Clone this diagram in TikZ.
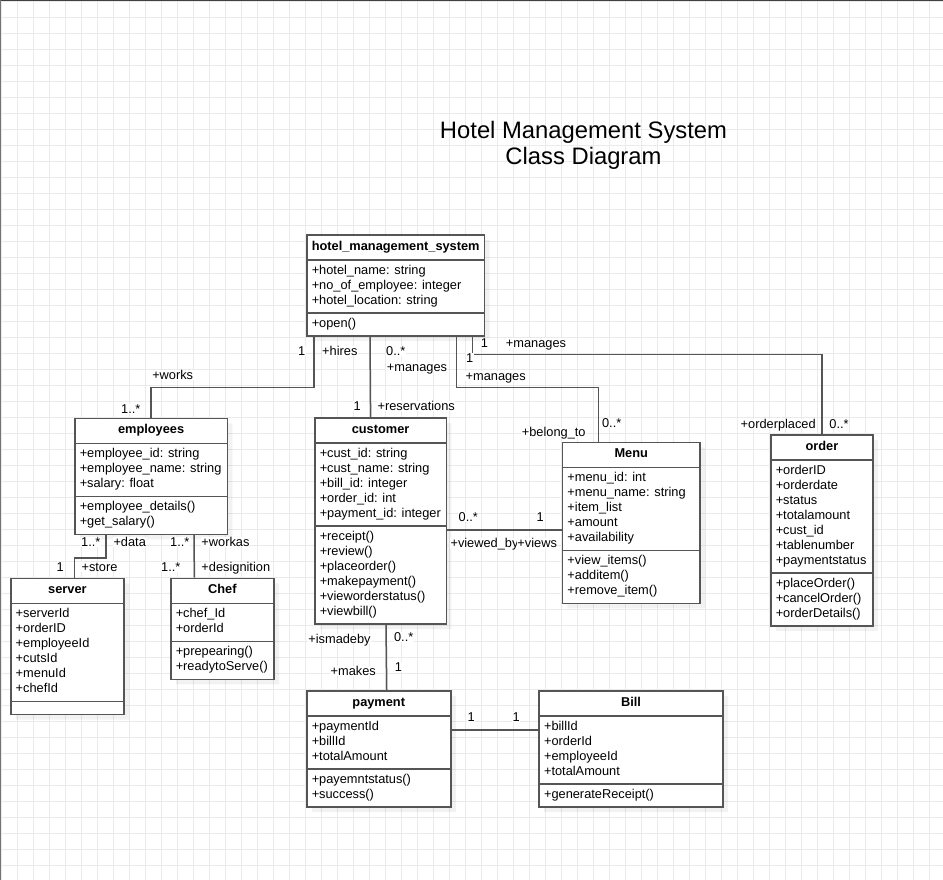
\documentclass[tikz,border=0pt]{standalone}
\usepackage{fontspec}
\setmainfont{Liberation Sans}
\usepackage{xcolor}
\usepackage{tikz}
\usetikzlibrary{shapes.multipart,shadows}

\definecolor{umlgray}{RGB}{85,85,85}
\definecolor{gridgray}{RGB}{234,234,234}
\newcommand{\classhead}[1]{\rule[-5.5pt]{0pt}{17pt}\textbf{#1}}
\newcommand{\members}[1]{\begin{tabular}{@{}l@{}}#1\end{tabular}}

\begin{document}
\begin{tikzpicture}[x=1pt, y=-1pt]
      \tikzstyle{umlclass} = [draw=umlgray, line width=1.5pt, fill=white, anchor=north west,
        rectangle split, rectangle split parts=3, rectangle split part align={center,left,left},
        rectangle split empty part height=0pt, rectangle split empty part depth=0pt,
        inner xsep=5pt, inner ysep=3.25pt,
        font=\fontsize{12.8}{15}\selectfont,
        drop shadow={shadow xshift=5pt, shadow yshift=-5pt, fill=black, opacity=0.05}]
      \tikzstyle{lbl} = [fill=white, inner sep=0.5pt, text height=9pt, text depth=0pt,
        font=\fontsize{12.8}{15}\selectfont]
      \tikzstyle{assoc} = [draw=umlgray, line width=1.5pt]

      \useasboundingbox (0,0) rectangle (943,880);
      \fill[white] (0,0) rectangle (943,880);
      \begin{scope}[shift={(1.3,1.3)}]
        \draw[gridgray, line width=1.2pt, step=16pt] (-1.3,878.7) grid (941.7,-1.3);
      \end{scope}
      \draw[black!75, line width=2pt] (0,0) -- (943,0);
      \draw[black!55, line width=2pt] (0,0) -- (0,880);

      \node[font=\fontsize{23.8}{26}\selectfont, align=center, anchor=north, inner sep=0pt]
        (title) at (583.5,121) {Hotel Management System\\Class Diagram};

      % classes
      \node[umlclass] (hms) at (306,234) {\classhead{hotel\_management\_system}
        \nodepart{two}\members{+hotel\_name: string\\+no\_of\_employee: integer\\+hotel\_location: string}
        \nodepart{three}\members{+open()}};
      \node[umlclass, minimum width=152.7] (emp) at (74,417.7) {\classhead{employees}
        \nodepart{two}\members{+employee\_id: string\\+employee\_name: string\\+salary: float}
        \nodepart{three}\members{+employee\_details()\\+get\_salary()}};
      \node[umlclass, minimum width=113.3] (server) at (10,577.7) {\classhead{server}
        \nodepart{two}\members{+serverId\\+orderID\\+employeeId\\+cutsId\\+menuId\\+chefId}
        \nodepart{three}};
      \node[umlclass, minimum width=103.3] (chef) at (170,577.7) {\classhead{Chef}
        \nodepart{two}\members{+chef\_Id\\+orderId}
        \nodepart{three}\members{+prepearing()\\+readytoServe()}};
      \node[umlclass, minimum width=131.7] (cust) at (314,417.3) {\classhead{customer}
        \nodepart{two}\members{+cust\_id: string\\+cust\_name: string\\+bill\_id: integer\\+order\_id: int\\+payment\_id: integer}
        \nodepart{three}\members{+receipt()\\+review()\\+placeorder()\\+makepayment()\\+vieworderstatus()\\+viewbill()}};
      \node[umlclass, minimum width=137.6] (menu) at (561.7,441.7) {\classhead{Menu}
        \nodepart{two}\members{+menu\_id: int\\+menu\_name: string\\+item\_list\\+amount\\+availability}
        \nodepart{three}\members{+view\_items()\\+additem()\\+remove\_item()}};
      \node[umlclass, minimum width=102.3] (order) at (770,434) {\classhead{order}
        \nodepart{two}\members{+orderID\\+orderdate\\+status\\+totalamount\\+cust\_id\\+tablenumber\\+paymentstatus}
        \nodepart{three}\members{+placeOrder()\\+cancelOrder()\\+orderDetails()}};
      \node[umlclass, minimum width=144] (pay) at (306,690) {\classhead{payment}
        \nodepart{two}\members{+paymentId\\+billId\\+totalAmount}
        \nodepart{three}\members{+payemntstatus()\\+success()}};
      \node[umlclass, minimum width=184] (bill) at (538.3,690) {\classhead{Bill}
        \nodepart{two}\members{+billId\\+orderId\\+employeeId\\+totalAmount}
        \nodepart{three}\members{+generateReceipt()}};

      % connections
      \draw[assoc] ([xshift=8pt]hms.south west) -- ++(0,51) -| (emp.north);
      \draw[assoc] ([xshift=64pt]hms.south west) -- ([xshift=-10pt]cust.north);
      \draw[assoc] ([xshift=-29pt]hms.south east) -- ++(0,51) -| ([xshift=-33pt]menu.north);
      \draw[assoc] ([xshift=-13pt]hms.south east) -- ++(0,18) -| (order.north);
      \draw[assoc] ([xshift=32pt]emp.south west) -- ++(0,23) -| ([xshift=7pt]server.north);
      \draw[assoc] ([xshift=120pt]emp.south west) -- ([xshift=-28pt]chef.north);
      \draw[assoc] ([yshift=-9pt]cust.east) coordinate (cm) -- (cm -| menu.west);
      \draw[assoc] ([xshift=72pt]cust.south west) -- ([xshift=8pt]pay.north);
      \draw[assoc] ([yshift=19pt]pay.east) coordinate (pb) -- (pb -| bill.west);

      % labels
      \node[lbl] (hires1) at (301.7,351) {1};
      \node[lbl] (hires) at (339.8,351) {+hires};
      \node[lbl] (works) at (172.7,375) {+works};
      \node[lbl] (works1) at (130.8,409) {1..*};
      \node[lbl] (res0) at (395.8,350.7) {0..*};
      \node[lbl] (resman) at (417,366.7) {+manages};
      \node[lbl] (res1) at (357.3,405.7) {1};
      \node[lbl] (res) at (416.2,405.7) {+reservations};
      \node[lbl] (menu1) at (469.7,358.3) {1};
      \node[lbl] (menuman) at (495.7,375.7) {+manages};
      \node[lbl] (belong) at (553.7,431.7) {+belong\_to};
      \node[lbl] (menu0) at (611.7,423.3) {0..*};
      \node[lbl] (order1) at (484.5,343.3) {1};
      \node[lbl] (orderman) at (536,343.3) {+manages};
      \node[lbl] (placed) at (778.2,424) {+orderplaced};
      \node[lbl] (order0) at (839,424) {0..*};
      \node[lbl] (data1) at (90.8,542) {1..*};
      \node[lbl] (data) at (129.7,542) {+data};
      \node[lbl] (store1) at (60.3,566.7) {1};
      \node[lbl] (store) at (99.5,566.7) {+store};
      \node[lbl] (workas1) at (179.8,542) {1..*};
      \node[lbl] (workas) at (225.5,542) {+workas};
      \node[lbl] (desig1) at (170.8,566.7) {1..*};
      \node[lbl] (desig) at (235.8,566.7) {+designition};
      \node[lbl] (view0) at (468.3,516.7) {0..*};
      \node[lbl] (view1) at (540.3,516.7) {1};
      \node[lbl] (viewedby) at (484.5,543.3) {+viewed\_by};
      \node[lbl] (views) at (537.2,543.3) {+views};
      \node[lbl] (made) at (339.5,639.3) {+ismadeby};
      \node[lbl] (made0) at (403.7,637) {0..*};
      \node[lbl] (makes) at (353.2,670.7) {+makes};
      \node[lbl] (makes1) at (398.5,667.3) {1};
      \node[lbl] (pay1) at (471.2,716.7) {1};
      \node[lbl] (bill1) at (516.3,716.7) {1};
\end{tikzpicture}
\end{document}
